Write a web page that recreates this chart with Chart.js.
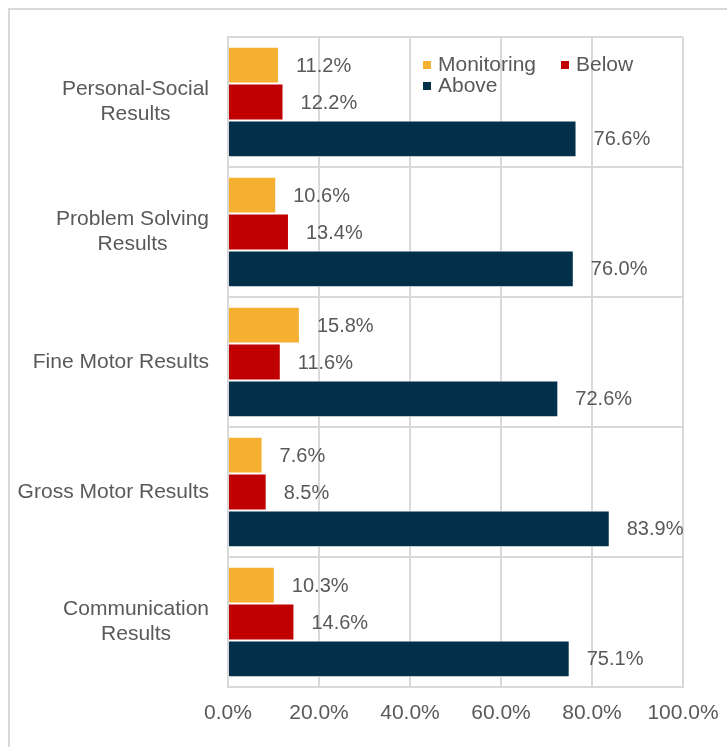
<!DOCTYPE html>
<html>
<head>
<meta charset="utf-8">
<script src="https://cdn.jsdelivr.net/npm/chart.js@4.4.1/dist/chart.umd.min.js"></script>
<style>
  html, body { margin:0; padding:0; background:#fff; overflow:hidden; }
  .frame { position:absolute; left:8px; top:8px; width:900px; height:900px; border:2px solid #d9d9d9; }
  .wrap  { position:absolute; left:0; top:0; width:727px; height:747px; }
</style>
</head>
<body>
<div class="frame"></div>
<div class="wrap"><canvas id="c"></canvas></div>
<script>
/* ── Data ─────────────────────────────────────────────── */
const CATEGORIES = [
  ["Personal-Social", "Results"],
  ["Problem Solving", "Results"],
  ["Fine Motor Results"],
  ["Gross Motor Results"],
  ["Communication", "Results"],
];
const MONITORING = [11.2, 10.6, 15.8, 7.6, 10.3];
const BELOW      = [12.2, 13.4, 11.6, 8.5, 14.6];
const ABOVE      = [76.6, 76.0, 72.6, 83.9, 75.1];
const X_TICKS    = [0, 20, 40, 60, 80, 100];

const FONT = "'Liberation Sans', Arial, sans-serif";
const TXT  = "#595959";
const GRID = "#d9d9d9";

/* ── Plugins ──────────────────────────────────────────── */
// value labels right of each bar
const valueLabels = {
  id: "valueLabels",
  afterDatasetsDraw(chart) {
    const ctx = chart.ctx;
    ctx.save();
    ctx.font = "20px " + FONT;
    ctx.fillStyle = TXT;
    ctx.textAlign = "left";
    ctx.textBaseline = "middle";
    chart.data.datasets.forEach((ds, di) => {
      chart.getDatasetMeta(di).data.forEach((bar, i) => {
        ctx.fillText(ds.data[i].toFixed(1) + "%", bar.x + 17, bar.y + 1);
      });
    });
    ctx.restore();
  },
};

// category labels: block right-aligned, lines centred within block
const catLabels = {
  id: "catLabels",
  afterDraw(chart) {
    const ctx = chart.ctx, y = chart.scales.y;
    ctx.save();
    ctx.font = "21px " + FONT;
    ctx.fillStyle = TXT;
    ctx.textAlign = "center";
    ctx.textBaseline = "middle";
    const right = 209, lh = 25;
    chart.data.labels.forEach((lines, i) => {
      const cy = y.getPixelForTick(i);
      const w = Math.max(...lines.map(l => ctx.measureText(l).width));
      const cx = right - w / 2;
      lines.forEach((l, k) => {
        ctx.fillText(l, cx, cy + (k - (lines.length - 1) / 2) * lh);
      });
    });
    ctx.restore();
  },
};

// legend drawn inside the plot area
const innerLegend = {
  id: "innerLegend",
  afterDraw(chart) {
    const ctx = chart.ctx;
    const spots = [[423, 65], [561, 65], [423, 86]];
    ctx.save();
    ctx.font = "21px " + FONT;
    ctx.textBaseline = "middle";
    ctx.textAlign = "left";
    chart.data.datasets.forEach((ds, i) => {
      const [x, yy] = spots[i];
      ctx.fillStyle = ds.backgroundColor;
      ctx.fillRect(x, yy - 4, 8, 8);
      ctx.fillStyle = TXT;
      ctx.fillText(ds.label, x + 15, yy);
    });
    ctx.restore();
  },
};

/* ── Chart ────────────────────────────────────────────── */
const barCommon = { borderColor:"#fff", borderWidth:1, categoryPercentage:0.85, barPercentage:1.0 };

new Chart(document.getElementById("c"), {
  type: "bar",
  data: {
    labels: CATEGORIES,
    datasets: [
      { label:"Monitoring", data:MONITORING, backgroundColor:"#f5af31", ...barCommon },
      { label:"Below",      data:BELOW,      backgroundColor:"#c00000", ...barCommon },
      { label:"Above",      data:ABOVE,      backgroundColor:"#022f4a", ...barCommon },
    ],
  },
  options: {
    indexAxis: "y",
    responsive: true,
    maintainAspectRatio: false,
    animation: false,
    layout: { padding: { left:0, top:37, right:44, bottom:0 } },
    plugins: { legend:{ display:false }, tooltip:{ enabled:false } },
    scales: {
      x: {
        min: 0, max: 100,
        afterBuildTicks: s => { s.ticks = X_TICKS.map(v => ({ value:v })); },
        afterFit: s => { s.height = 60; s.paddingLeft = 0; s.paddingRight = 0; },
        ticks: { color:TXT, font:{ family:FONT, size:21 }, padding:14,
                 callback: v => v.toFixed(1) + "%" },
        grid: { color:GRID, lineWidth:2, drawTicks:false },
        border: { color:GRID, width:2 },
      },
      y: {
        afterFit: s => { s.width = 228; },
        ticks: { display:false },
        grid: { color:GRID, lineWidth:2, drawTicks:false },
        border: { color:GRID, width:2 },
      },
    },
  },
  plugins: [valueLabels, catLabels, innerLegend],
});
</script>
</body>
</html>
